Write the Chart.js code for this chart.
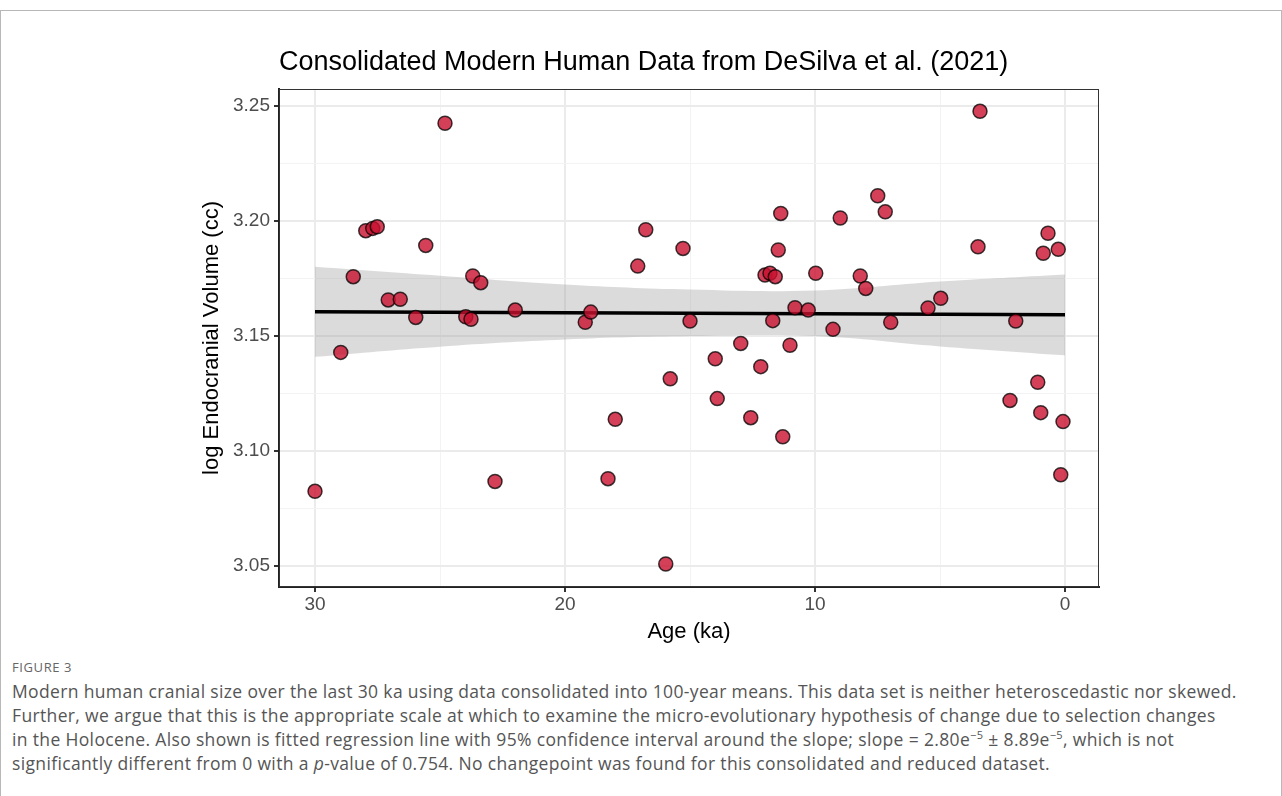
<!DOCTYPE html>
<html>
<head>
<meta charset="utf-8">
<script src="https://cdn.jsdelivr.net/npm/chart.js@4.4.1/dist/chart.umd.min.js"></script>
<style>
  body { margin: 0; background: #fff; }
  #frame { position: absolute; left: 0; top: 10px; width: 1280px; height: 800px; border: 1px solid #b8b8b8; }
  #wrap { position: absolute; left: 0; top: 0; width: 1282px; height: 650px; }
  #figlabel { position: absolute; left: 12px; top: 658px; font: 13px "Open Sans", sans-serif; color: #666; letter-spacing: 0.6px; }
  #caption { position: absolute; left: 12px; top: 679px; width: 1268px; white-space: nowrap; font: 17.5px/24px "Open Sans", sans-serif; color: #555; letter-spacing: 0.35px; }
  #caption sup { font-size: 11px; line-height: 0; }
</style>
</head>
<body>
<div id="frame"></div>
<div id="wrap"><canvas id="chart"></canvas></div>
<div id="figlabel">FIGURE 3</div>
<div id="caption">Modern human cranial size over the last 30 ka using data consolidated into 100-year means. This data set is neither heteroscedastic nor skewed.<br>Further, we argue that this is the appropriate scale at which to examine the micro-evolutionary hypothesis of change due to selection changes<br>in the Holocene. Also shown is fitted regression line with 95% confidence interval around the slope; slope = 2.80e<sup>−5</sup> ± 8.89e<sup>−5</sup>, which is not<br>significantly different from 0 with a <i>p</i>-value of 0.754. No changepoint was found for this consolidated and reduced dataset.</div>
<script>
// 100-year means, age in ka
var ages = [30.0, 28.97, 28.47, 27.97, 27.69, 27.51, 27.07, 26.59, 25.97, 25.57,
  24.8, 23.97, 23.76, 23.69, 23.37, 22.8, 21.99, 19.19, 18.97, 18.28,
  17.99, 17.09, 16.77, 15.97, 15.79, 15.28, 15.0, 13.99, 13.91, 12.97,
  12.57, 12.17, 12.0, 11.8, 11.69, 11.59, 11.47, 11.37, 11.29, 11.0,
  10.8, 10.27, 9.97, 9.28, 8.99, 8.19, 7.97, 7.49, 7.19, 6.97,
  5.48, 4.97, 3.48, 3.4, 2.2, 1.97, 1.09, 0.97, 0.87, 0.68,
  0.27, 0.17, 0.08];
var logVolume = [3.0825, 3.1429, 3.1758, 3.1958, 3.1968, 3.1975, 3.1657, 3.1660, 3.1581, 3.1894,
  3.2425, 3.1584, 3.1573, 3.1761, 3.1732, 3.0868, 3.1613, 3.1560, 3.1604, 3.0880,
  3.1138, 3.1804, 3.1962, 3.0509, 3.1314, 3.1881, 3.1565, 3.1401, 3.1228, 3.1468,
  3.1145, 3.1367, 3.1765, 3.1773, 3.1567, 3.1758, 3.1874, 3.2033, 3.1062, 3.1460,
  3.1623, 3.1613, 3.1773, 3.1529, 3.2013, 3.1761, 3.1707, 3.2110, 3.2040, 3.1560,
  3.1622, 3.1664, 3.1888, 3.2477, 3.1220, 3.1565, 3.1299, 3.1167, 3.1860, 3.1947,
  3.1877, 3.0897, 3.1128];

// fitted line and 95% band
var fitAges = [30, 0];
var fitValues = [3.1606, 3.1593];
var bandAges = [30, 25, 20, 15, 10, 5, 0];
var bandUpper = [3.1801, 3.1762, 3.1724, 3.1702, 3.1698, 3.1737, 3.1768];
var bandLower = [3.1410, 3.1454, 3.1485, 3.1500, 3.1500, 3.1455, 3.1416];

var xMajor = [30, 20, 10, 0];
var xMinor = [25, 15, 5];
var yMajor = [3.05, 3.10, 3.15, 3.20, 3.25];
var yMinor = [3.075, 3.125, 3.175, 3.225];

function pairs(xs, ys) {
  return xs.map(function (x, i) { return { x: x, y: ys[i] }; });
}
function isMajor(list, v) {
  return list.some(function (m) { return Math.abs(m - v) < 1e-6; });
}

var frameBox = {
  id: 'frameBox',
  afterDraw: function (chart) {
    var a = chart.chartArea, c = chart.ctx;
    c.save();
    c.strokeStyle = '#333';
    c.lineWidth = 1;
    c.strokeRect(a.left + 0.5, a.top + 0.5, a.right - a.left - 1, a.bottom - a.top - 1);
    c.restore();
  }
};

var tickFont = { family: '"Liberation Sans", Arial, sans-serif', size: 19 };
var titleFont = { family: '"Liberation Sans", Arial, sans-serif', size: 22 };

var ctx = document.getElementById('chart').getContext('2d');
var myChart = new Chart(ctx, {
  type: 'scatter',
  data: {
    datasets: [{
      data: pairs(ages, logVolume),
      pointRadius: 7,
      pointHoverRadius: 7,
      borderWidth: 1.5,
      borderColor: 'rgba(0,0,0,0.75)',
      backgroundColor: 'rgba(200,16,46,0.8)'
    }, {
      type: 'line',
      data: pairs(fitAges, fitValues),
      borderColor: '#000',
      borderWidth: 3.5,
      pointRadius: 0,
      fill: false
    }, {
      type: 'line',
      data: pairs(bandAges, bandUpper),
      borderWidth: 0,
      pointRadius: 0,
      tension: 0.4,
      backgroundColor: 'rgba(153,153,153,0.35)',
      fill: '+1'
    }, {
      type: 'line',
      data: pairs(bandAges, bandLower),
      borderWidth: 0,
      pointRadius: 0,
      tension: 0.4,
      fill: false
    }]
  },
  options: {
    responsive: true,
    maintainAspectRatio: false,
    animation: false,
    layout: { padding: { left: 190, right: 183, top: 0, bottom: 3 } },
    plugins: {
      legend: { display: false },
      tooltip: { enabled: false },
      title: {
        display: true,
        text: 'Consolidated Modern Human Data from DeSilva et al. (2021)',
        align: 'start',
        fullSize: false,
        color: '#000',
        font: { family: '"Liberation Sans", Arial, sans-serif', size: 27, weight: 'normal' },
        padding: { top: 46, bottom: 10.6 }
      }
    },
    scales: {
      x: {
        type: 'linear',
        reverse: true,
        min: -1.36,
        max: 31.44,
        afterBuildTicks: function (scale) {
          scale.ticks = xMajor.concat(xMinor).map(function (v) { return { value: v }; });
        },
        afterFit: function (scale) { scale.height = 60; },
        ticks: {
          padding: 1,
          color: '#4d4d4d',
          font: tickFont,
          maxRotation: 0,
          callback: function (v) { return isMajor(xMajor, v) ? String(v) : ''; }
        },
        grid: {
          color: function (c) { return isMajor(xMajor, c.tick.value) ? '#ebebeb' : '#f3f3f3'; },
          lineWidth: function (c) { return isMajor(xMajor, c.tick.value) ? 2 : 1; },
          tickColor: function (c) { return isMajor(xMajor, c.tick.value) ? '#333' : 'rgba(0,0,0,0)'; },
          tickLength: 5,
          tickWidth: 2
        },
        border: { display: true, color: '#222', width: 2 },
        title: { display: true, text: 'Age (ka)', color: '#000', font: titleFont, padding: { top: 0, bottom: 2 } }
      },
      y: {
        type: 'linear',
        min: 3.0409,
        max: 3.2574,
        afterBuildTicks: function (scale) {
          scale.ticks = yMajor.concat(yMinor).map(function (v) { return { value: v }; });
        },
        afterFit: function (scale) { scale.width = 89; },
        ticks: {
          padding: 4,
          color: '#4d4d4d',
          font: tickFont,
          callback: function (v) { return isMajor(yMajor, v) ? v.toFixed(2) : ''; }
        },
        grid: {
          color: function (c) { return isMajor(yMajor, c.tick.value) ? '#ebebeb' : '#f3f3f3'; },
          lineWidth: function (c) { return isMajor(yMajor, c.tick.value) ? 2 : 1; },
          tickColor: function (c) { return isMajor(yMajor, c.tick.value) ? '#333' : 'rgba(0,0,0,0)'; },
          tickLength: 5,
          tickWidth: 2
        },
        border: { display: true, color: '#222', width: 2 },
        title: { display: true, text: 'log Endocranial Volume (cc)', color: '#000', font: titleFont, padding: { top: 8.8, bottom: 0 } }
      }
    }
  },
  plugins: [frameBox]
});
</script>
</body>
</html>
